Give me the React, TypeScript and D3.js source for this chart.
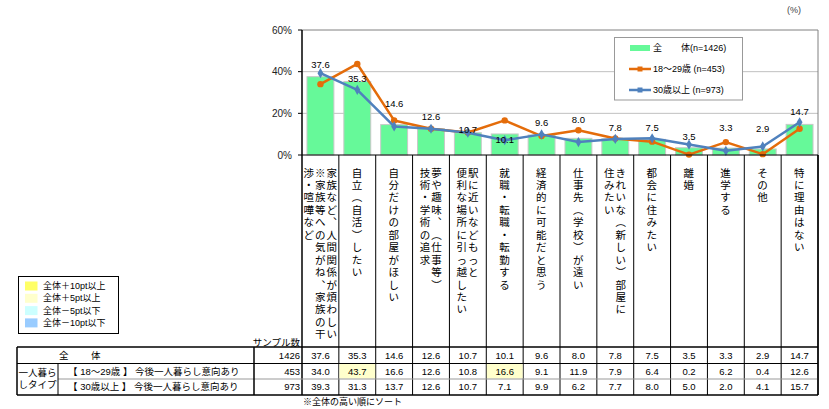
import React from 'react';
import * as d3 from 'd3';

// ---------- DATA ----------
const categories: string[][] = [
  ['家族など、人間関係が煩わしい', '※家族等への気がね、家族の干', '渉・喧嘩など'],
  ['自立（自活）したい'],
  ['自分だけの部屋がほしい'],
  ['夢や趣味、（仕事等）', '技術・学術の追求'],
  ['駅に近いなどもっと', '便利な場所に引っ越したい'],
  ['就職・転職・転勤する'],
  ['経済的に可能だと思う'],
  ['仕事先（学校）が遠い'],
  ['きれいな（新しい）部屋に', '住みたい'],
  ['都会に住みたい'],
  ['離婚'],
  ['進学する'],
  ['その他'],
  ['特に理由はない'],
];
const totalValues = [37.6, 35.3, 14.6, 12.6, 10.7, 10.1, 9.6, 8.0, 7.8, 7.5, 3.5, 3.3, 2.9, 14.7];
const youngValues = [34.0, 43.7, 16.6, 12.6, 10.8, 16.6, 9.1, 11.9, 7.9, 6.4, 0.2, 6.2, 0.4, 12.6];
const olderValues = [39.3, 31.3, 13.7, 12.6, 10.7, 7.1, 9.9, 6.2, 7.7, 8.0, 5.0, 2.0, 4.1, 15.7];
const sampleSizes = [1426, 453, 973];
const yTicks = [0, 20, 40, 60];
const seriesNames = ['全', '18～29歳 (n=453)', '30歳以上 (n=973)'];
const rowLabels = ['【 18～29歳 】 今後一人暮らし意向あり', '【 30歳以上 】 今後一人暮らし意向あり'];
const keyLabels = ['全体＋10pt以上', '全体＋5pt以上', '全体－5pt以下', '全体－10pt以下'];
const keyThresholds = [10, 5, -5, -10];

// ---------- STYLE / LAYOUT ----------
const FONT = "'Liberation Sans', 'Noto Sans CJK JP', sans-serif";
const BAR = '#66F999';
const ORANGE = '#E46C0A';
const BLUE = '#4F81BD';
const KEY_COLORS = ['#FFFF66', '#FFFFCC', '#CCFFFF', '#99CCFF'];
// label nudges (px above bar top) mimicking the hand-placed labels
const labelNudge = [12, 3, 21, 12, 3, -6, 12, 19, 11, 12, 11, 20, 20, 13];

const VMAP: Record<string, string> = { '（': '︵', '）': '︶', '、': '︑' };

function cellColor(diff: number): string | null {
  if (diff >= keyThresholds[0]) return KEY_COLORS[0];
  if (diff >= keyThresholds[1]) return KEY_COLORS[1];
  if (diff <= keyThresholds[3]) return KEY_COLORS[3];
  if (diff <= keyThresholds[2]) return KEY_COLORS[2];
  return null;
}

export default function App() {
  const W = 829, H = 409;
  const L = 302, R = 818, T = 30, B = 155;
  const n = totalValues.length;
  const idx = d3.range(n).map(String);
  const x = d3.scaleBand<string>().domain(idx).range([L, R]).paddingInner(0.27).paddingOuter(0.135);
  const xb = d3.scaleLinear().domain([0, n]).range([L, R]);
  const y = d3.scaleLinear().domain([0, 60]).range([B, T]);
  const cx = (i: number) => (x(String(i)) as number) + x.bandwidth() / 2;

  const line = d3.line<number>().x((_, i) => cx(i)).y((d) => y(d));
  const diamond = d3.symbol().type(d3.symbolDiamond).size(30)();
  const square = d3.symbol().type(d3.symbolSquare).size(25)();

  const tableTop = 347, r1 = 363.5, r2 = 379, tableBottom = 395;
  const rowMid = [355.5, 371.5, 387];
  const rows = [totalValues, youngValues, olderValues];

  return (
    <svg width={W} height={H} style={{ position: 'absolute', left: 0, top: 0, background: '#fff' }} fontFamily={FONT}>
      <rect x={0} y={0} width={W} height={H} fill="#fff" />
      <text x={794} y={13} fontSize={9} fill="#444" textAnchor="middle">(%)</text>

      {/* gridlines */}
      {yTicks.filter((t) => t > 0 && t < 60).map((t) => (
        <line key={t} x1={L} x2={R} y1={y(t)} y2={y(t)} stroke="#c0c0c0" strokeWidth={1} />
      ))}
      <line x1={L} x2={R} y1={y(60)} y2={y(60)} stroke="#808080" />
      <line x1={R} x2={R} y1={T} y2={B} stroke="#808080" />

      {/* y axis */}
      {yTicks.map((t) => (
        <g key={t}>
          <line x1={L - 4} x2={L} y1={y(t)} y2={y(t)} stroke="#000" />
          <text x={292} y={y(t)} dy="0.35em" fontSize={10} textAnchor="end" fill="#222">{t}%</text>
        </g>
      ))}

      {/* bars */}
      {totalValues.map((v, i) => (
        <rect key={i} x={x(String(i))} y={y(v)} width={x.bandwidth()} height={B - y(v)} fill={BAR} stroke="#c8c8c8" strokeWidth={1} />
      ))}

      {/* lines */}
      <path d={line(youngValues) || ''} fill="none" stroke={ORANGE} strokeWidth={2.5} strokeLinejoin="round" />
      {youngValues.map((v, i) => (
        <circle key={i} cx={cx(i)} cy={y(v)} r={3.2} fill={ORANGE} />
      ))}
      <path d={line(olderValues) || ''} fill="none" stroke={BLUE} strokeWidth={2.5} strokeLinejoin="round" />
      {olderValues.map((v, i) => (
        <path key={i} d={diamond || ''} transform={`translate(${cx(i)},${y(v)})`} fill={BLUE} />
      ))}

      {/* data labels */}
      {totalValues.map((v, i) => (
        <text key={i} x={cx(i)} y={y(v) - labelNudge[i]} dy="0.35em" fontSize={9.5} textAnchor="middle" fill="#000">
          {v.toFixed(1)}
        </text>
      ))}

      {/* axes lines */}
      <line x1={L} x2={L} y1={T} y2={tableBottom} stroke="#000" strokeWidth={1.5} />
      <line x1={L} x2={R} y1={B} y2={B} stroke="#000" />

      {/* legend */}
      <rect x={614.5} y={37.5} width={128} height={62.5} fill="#fff" stroke="#999" />
      <rect x={630} y={45} width={20} height={6} fill={BAR} />
      <text x={653} y={48} dy="0.35em" fontSize={9} fill="#000">{seriesNames[0]}</text>
      <text x={681} y={48} dy="0.35em" fontSize={9} fill="#000">体(n=1426)</text>
      <line x1={629} x2={651} y1={69} y2={69} stroke={ORANGE} strokeWidth={2.5} />
      <path d={square || ''} transform="translate(640,69)" fill={ORANGE} />
      <text x={653} y={69} dy="0.35em" fontSize={9} fill="#000">{seriesNames[1]}</text>
      <line x1={629} x2={651} y1={90} y2={90} stroke={BLUE} strokeWidth={2.5} />
      <path d={square || ''} transform="translate(640,90)" fill={BLUE} />
      <text x={653} y={90} dy="0.35em" fontSize={9} fill="#000">{seriesNames[2]}</text>

      {/* category vertical labels */}
      {categories.map((lines, i) => {
        const c = (xb(i) + xb(i + 1)) / 2 - 0.3;
        const gap = 11.5;
        return lines.map((ln, j) => {
          const colX = c + ((lines.length - 1) / 2) * gap - j * gap;
          return Array.from(ln).map((ch, k) => (
            <text key={`${i}-${j}-${k}`} x={colX} y={172.5 + k * 12.45} fontSize={10.5} textAnchor="middle" dominantBaseline="central" fill="#000">
              {VMAP[ch] || ch}
            </text>
          ));
        });
      })}

      {/* column boundary lines */}
      {d3.range(1, n + 1).map((k) => (
        <line key={k} x1={xb(k)} x2={xb(k)} y1={B} y2={tableBottom} stroke="#000" strokeWidth={1} />
      ))}

      {/* colour key */}
      <rect x={18.5} y={276.5} width={100} height={57} fill="#fff" stroke="#000" />
      {keyLabels.map((k, i) => (
        <g key={k}>
          <rect x={25} y={281.5 + i * 12.3} width={12.5} height={9} fill={KEY_COLORS[i]} />
          <text x={43} y={286 + i * 12.3} dy="0.35em" fontSize={9} fill="#000">{k}</text>
        </g>
      ))}

      {/* table */}
      <text x={300} y={343} dy="0.35em" fontSize={9.5} textAnchor="end" fill="#000">サンプル数</text>
      {rows.map((vals, r) =>
        vals.map((v, i) => {
          const col = r === 0 ? null : cellColor(v - totalValues[i]);
          const y0 = r === 0 ? tableTop : r === 1 ? r1 : r2;
          const y1 = r === 0 ? r1 : r === 1 ? r2 : tableBottom;
          return (
            <g key={`${r}-${i}`}>
              {col && <rect x={xb(i) + 0.5} y={y0 + 0.5} width={xb(i + 1) - xb(i) - 1} height={y1 - y0 - 1} fill={col} />}
              <text x={(xb(i) + xb(i + 1)) / 2} y={rowMid[r]} dy="0.35em" fontSize={9.5} textAnchor="middle" fill="#000">
                {v.toFixed(1)}
              </text>
            </g>
          );
        })
      )}
      {sampleSizes.map((s, r) => (
        <text key={r} x={300} y={rowMid[r]} dy="0.35em" fontSize={9.5} textAnchor="end" fill="#000">{s}</text>
      ))}
      <text x={59} y={rowMid[0]} dy="0.35em" fontSize={9.5} fill="#000">全</text>
      <text x={91} y={rowMid[0]} dy="0.35em" fontSize={9.5} fill="#000">体</text>
      <text x={18.5} y={373} dy="0.35em" fontSize={9.5} fill="#000">一人暮ら</text>
      <text x={18.5} y={385} dy="0.35em" fontSize={9.5} fill="#000">しタイプ</text>
      {rowLabels.map((t, r) => (
        <text key={t} x={68} y={rowMid[r + 1]} dy="0.35em" fontSize={9.5} fill="#000">{t}</text>
      ))}

      {/* table grid */}
      <line x1={17} x2={R} y1={tableTop} y2={tableTop} stroke="#000" strokeWidth={1.5} />
      <line x1={17} x2={R} y1={r1} y2={r1} stroke="#000" strokeWidth={1} />
      <line x1={58} x2={R} y1={r2} y2={r2} stroke="#999" strokeWidth={1} />
      <line x1={17} x2={R} y1={tableBottom} y2={tableBottom} stroke="#000" strokeWidth={1.5} />
      <line x1={17} x2={17} y1={tableTop} y2={tableBottom} stroke="#000" strokeWidth={1.5} />
      <line x1={58} x2={58} y1={r1} y2={tableBottom} stroke="#000" strokeWidth={1} />
      <line x1={254} x2={254} y1={tableTop} y2={tableBottom} stroke="#000" strokeWidth={1.5} />
      <line x1={R} x2={R} y1={B} y2={tableBottom} stroke="#000" strokeWidth={1.5} />

      <text x={303} y={402} dy="0.35em" fontSize={9} fill="#000">※全体の高い順にソート</text>
    </svg>
  );
}
